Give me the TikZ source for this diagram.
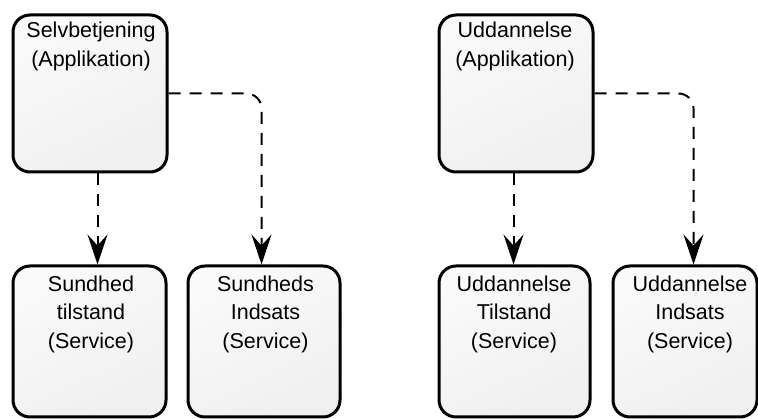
\documentclass[tikz,border=0pt]{standalone}
\usepackage{fontspec}
\setmainfont{Liberation Sans}
\usetikzlibrary{arrows.meta}

\begin{document}
\begin{tikzpicture}[x=1pt,y=-1pt,
  box/.style={draw=black, line width=3pt, rounded corners=17pt,
    top color=white!98!black, bottom color=black!6, shading angle=25,
    inner sep=0pt, anchor=north west},
  boxtext/.style={align=center, inner sep=0pt, anchor=north,
    font=\fontsize{21.5}{28.5}\selectfont},
  link/.style={line width=2pt, dash pattern=on 12pt off 9pt,
    -{Stealth[length=30pt, width=20pt, inset=11pt]}},
]
\fill[white] (0,0) rectangle (758,419);
\useasboundingbox (0,0) rectangle (758,419);

% applications (top row)
\node[box, minimum width=154pt, minimum height=157pt] (selv) at (11.5,13.5) {};
\node[box, minimum width=154pt, minimum height=157pt] (udd) at (437.5,13.5) {};

% services (bottom row)
\node[box, minimum width=153pt, minimum height=151pt] (sundt) at (11.5,264.5) {};
\node[box, minimum width=152pt, minimum height=151pt] (sundi) at (186.5,264.5) {};
\node[box, minimum width=151pt, minimum height=151pt] (uddt) at (437.5,264.5) {};
\node[box, minimum width=144pt, minimum height=151pt] (uddi) at (611.5,264.5) {};

% labels: first baseline sits 19.95pt below each node's north
\node[boxtext] (selvtxt) at (91,17.8) {\strut Selvbetjening\\(Applikation)};
\node[boxtext] (uddtxt) at (515,17.8) {\strut Uddannelse\\(Applikation)};
\node[boxtext] (sundttxt) at (91,270.9) {\strut Sundhed\\tilstand\\(Service)};
\node[boxtext] (sunditxt) at (265.5,270.9) {\strut Sundheds\\Indsats\\(Service)};
\node[boxtext] (uddttxt) at (514,270.9) {\strut Uddannelse\\Tilstand\\(Service)};
\node[boxtext] (udditxt) at (690,270.9) {\strut Uddannelse\\Indsats\\(Service)};

% dependencies
\draw[link] ([xshift=7.5pt]selv.south) -- ([xshift=8pt]sundt.north);
\draw[link, rounded corners=15pt] (selv.east) -| ([xshift=-2.5pt]sundi.north);
\draw[link] ([xshift=-2.5pt]udd.south) -- ([xshift=-1pt]uddt.north);
\draw[link, rounded corners=15pt] (udd.east) -| ([xshift=8.5pt]uddi.north);
\end{tikzpicture}
\end{document}
